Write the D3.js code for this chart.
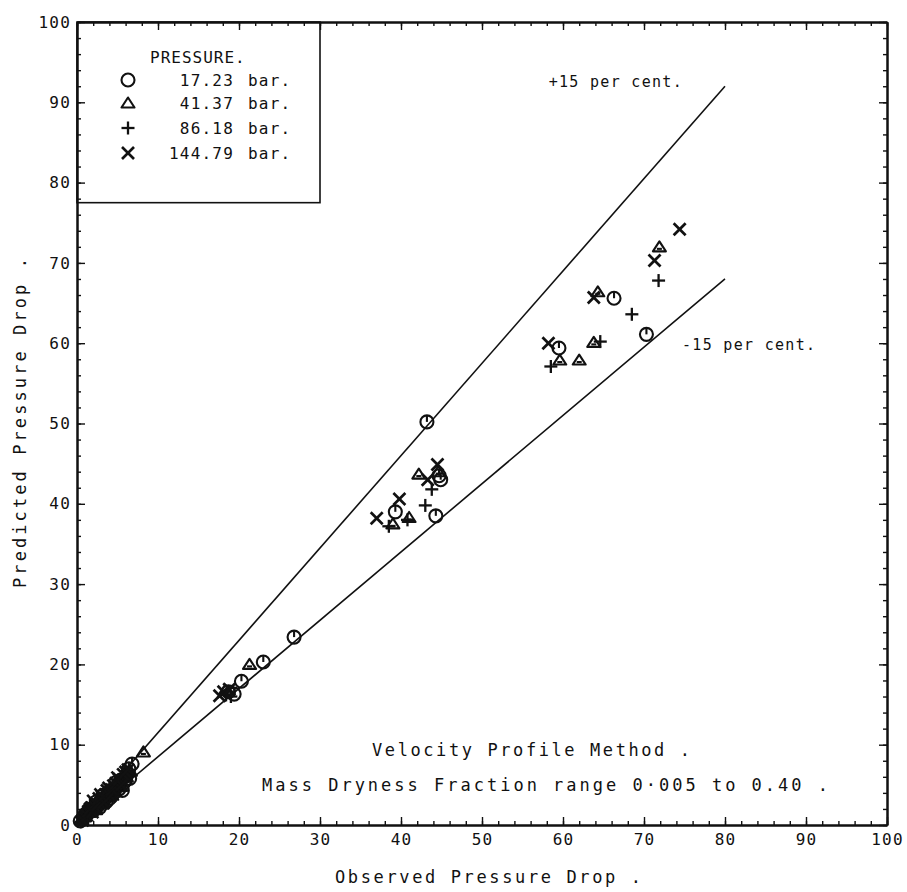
<!DOCTYPE html>
<meta charset="utf-8">
<style>
    body { margin: 0; background: #fff; overflow: hidden; }
    text { font-family: "DejaVu Sans Mono", monospace; fill: #111; }
    .axis path, .axis line { stroke: #111; }
</style>
<svg id="canvas" width="907" height="892"></svg>
<script src="https://d3js.org/d3.v7.min.js"></script>
<script>

    // observed / predicted pressure drop, one list per pressure
    var bar17 = [[0.4,0.5],[0.8,0.9],[1.0,1.3],[1.3,1.4],[1.5,1.9],[1.8,2.0],[2.0,1.8],[2.2,2.3],[2.4,2.9],
                 [2.6,2.5],[2.8,2.2],[3.0,3.1],[3.2,3.7],[3.4,3.2],[3.6,2.9],[3.8,3.6],[4.0,3.3],[4.2,4.3],
                 [4.4,3.8],[4.6,4.1],[4.8,5.3],[5.0,4.9],[5.2,4.5],[5.4,5.6],[5.6,4.3],[5.8,5.3],[6.0,5.6],
                 [6.2,6.4],[6.4,7.0],[6.5,5.8],[6.8,7.6],
                 [18.7,16.6],[19.4,16.3],[20.3,17.9],[23.0,20.3],[26.8,23.4],[39.3,39.0],[43.2,50.2],
                 [44.3,38.5],[44.7,43.5],[44.9,43.0],[59.5,59.4],[66.3,65.6],[70.3,61.1]];
    var bar41 = [[0.6,0.7],[0.9,1.0],[1.2,1.6],[1.2,2.2],[1.5,1.7],[1.9,2.3],[2.0,2.4],[2.3,1.9],[2.5,2.8],
                 [2.7,3.4],[2.9,2.7],[3.1,2.6],[3.3,3.6],[3.5,4.1],[3.7,3.9],[4.1,4.0],[4.3,3.7],[4.5,4.8],
                 [4.7,5.1],[5.1,5.3],[5.4,4.8],[5.6,5.9],[5.9,6.4],[6.1,6.0],[6.6,6.7],[8.2,9.1],
                 [18.3,16.8],[21.3,20.0],[39.0,37.5],[41.0,38.3],[42.2,43.7],[44.6,44.0],[59.6,57.9],
                 [62.0,57.9],[63.8,60.1],[64.3,66.4],[71.9,72.0]];
    var bar86 = [[0.5,0.4],[1.0,0.9],[1.3,1.1],[1.6,1.5],[1.6,2.6],[1.8,2.4],[2.1,2.0],[2.2,1.7],[2.4,2.6],
                 [2.6,3.2],[2.8,3.0],[3.0,2.4],[3.2,2.9],[3.4,3.9],[3.6,3.4],[3.8,3.1],[4.0,4.2],[4.4,4.5],
                 [4.6,5.0],[4.9,4.6],[5.1,4.2],[5.3,5.1],[5.6,5.5],[6.0,6.2],[6.3,6.6],
                 [18.4,16.2],[19.0,16.0],[38.5,37.2],[40.8,38.0],[43.0,39.8],[43.8,41.8],[58.5,57.1],
                 [64.6,60.2],[68.5,63.6],[71.8,67.8]];
    var bar144 = [[0.7,0.6],[1.2,1.2],[1.4,1.7],[1.7,2.1],[1.9,1.6],[2.0,3.0],[2.3,2.2],[2.5,2.5],[2.7,3.3],
                  [2.9,3.8],[3.1,3.5],[3.3,2.8],[3.5,3.8],[3.7,4.3],[3.9,4.6],[4.1,3.6],[4.3,4.4],[4.5,4.9],
                  [4.8,5.2],[5.0,5.9],[5.2,5.7],[5.5,5.0],[5.7,6.3],[6.0,6.6],[6.3,6.9],
                  [17.6,16.1],[18.1,16.6],[18.8,16.9],[37.0,38.2],[39.8,40.6],[43.3,43.0],[44.5,44.9],
                  [58.2,60.0],[63.8,65.7],[71.3,70.3],[74.4,74.2]];

    var series = [
        {label: "17.23", marker: "circle", points: bar17},
        {label: "41.37", marker: "triangle", points: bar41},
        {label: "86.18", marker: "plus", points: bar86},
        {label: "144.79", marker: "cross", points: bar144}
    ];

    var upperLine = [[0, 0], [80, 92]];   // +15 per cent
    var lowerLine = [[0, 0], [80, 68]];   // -15 per cent
    var majorTicks = d3.range(0, 101, 10);
    var minorTicks = d3.range(0, 101, 2);

    var svg = d3.select("svg");

    var x = d3.scaleLinear().domain([0, 100]).range([77, 887]);
    var y = d3.scaleLinear().domain([0, 100]).range([825, 22]);

    function addAxis(axis, tx, ty, values, size, labels) {
        var g = svg.append("g")
            .attr("class", "axis")
            .attr("transform", "translate(" + tx + "," + ty + ")")
            .call(axis.tickValues(values).tickSizeInner(-size).tickSizeOuter(0).tickPadding(6)
                      .tickFormat(labels ? d3.format("d") : ""));
        g.select(".domain").attr("stroke-width", 2);
        g.selectAll(".tick line").attr("stroke-width", 1.4);
        g.selectAll("text").style("font-size", "16px").attr("letter-spacing", 1.2).attr("fill", "#111");
        return g;
    }

    // minor ticks on all four sides
    addAxis(d3.axisBottom(x), 0, y(0), minorTicks, 4, false);
    addAxis(d3.axisTop(x), 0, y(100), minorTicks, 4, false);
    addAxis(d3.axisLeft(y), x(0), 0, minorTicks, 4, false);
    addAxis(d3.axisRight(y), x(100), 0, minorTicks, 4, false);
    // major ticks
    addAxis(d3.axisBottom(x), 0, y(0), majorTicks, 8, true).selectAll("text").attr("dy", "0.85em");
    addAxis(d3.axisTop(x), 0, y(100), majorTicks, 8, false);
    addAxis(d3.axisLeft(y), x(0), 0, majorTicks, 8, true);
    addAxis(d3.axisRight(y), x(100), 0, majorTicks, 8, false);

    // +/- 15 per cent lines
    var line = d3.line().x(function(d) { return x(d[0]); }).y(function(d) { return y(d[1]); });
    [upperLine, lowerLine].forEach(function(l) {
        svg.append("path").attr("d", line(l)).attr("fill", "none").attr("stroke", "#111").attr("stroke-width", 1.6);
    });

    function marker(g, type, cx, cy, inPlot) {
        var m = g.append("g").attr("fill", "none").attr("stroke", "#111").attr("stroke-width", 2.1);
        if (type === "circle") {
            m.append("circle").attr("cx", cx).attr("cy", cy).attr("r", 6.5);
            if (inPlot) m.append("line").attr("x1", cx).attr("y1", cy - 6.5).attr("x2", cx).attr("y2", cy);
        } else if (type === "triangle") {
            m.append("path").attr("d", "M" + (cx - 6.5) + "," + (cy + 4.5) + "L" + cx + "," + (cy - 5.5) +
                "L" + (cx + 6.5) + "," + (cy + 4.5) + "Z").attr("stroke-linejoin", "round");
            if (inPlot) m.append("line").attr("x1", cx - 2.5).attr("y1", cy + 2).attr("x2", cx + 2.5).attr("y2", cy + 2);
        } else if (type === "plus") {
            m.attr("stroke-width", 2.3);
            m.append("line").attr("x1", cx - 6.5).attr("y1", cy).attr("x2", cx + 6.5).attr("y2", cy);
            m.append("line").attr("x1", cx).attr("y1", cy - 6.5).attr("x2", cx).attr("y2", cy + 6.5);
        } else {
            m.attr("stroke-width", 2.7);
            m.append("line").attr("x1", cx - 6).attr("y1", cy - 6).attr("x2", cx + 6).attr("y2", cy + 6);
            m.append("line").attr("x1", cx - 6).attr("y1", cy + 6).attr("x2", cx + 6).attr("y2", cy - 6);
        }
    }

    var pts = svg.append("g").attr("class", "points");
    series.forEach(function(s) {
        s.points.forEach(function(p) { marker(pts, s.marker, x(p[0]), y(p[1]), true); });
    });

    // legend box
    svg.append("rect")
        .attr("x", x(0)).attr("y", y(100))
        .attr("width", x(30) - x(0)).attr("height", y(77.5) - y(100))
        .attr("fill", "none").attr("stroke", "#111").attr("stroke-width", 1.6);

    var legend = svg.append("g");
    legend.append("text").attr("x", 150).attr("y", 57).attr("dy", "0.35em")
        .style("font-size", "16px").attr("letter-spacing", 1).text("PRESSURE.");
    series.forEach(function(s, i) {
        var ly = [80, 103, 128, 153][i];
        marker(legend, s.marker, 128, ly, false);
        legend.append("text").attr("x", 234).attr("y", ly).attr("dy", "0.35em").attr("text-anchor", "end")
            .style("font-size", "16px").attr("letter-spacing", 1.2).text(s.label);
        legend.append("text").attr("x", 248).attr("y", ly).attr("dy", "0.35em")
            .style("font-size", "16px").attr("letter-spacing", 1.2).text("bar.");
    });

    // annotations
    svg.append("text").attr("x", 683).attr("y", 82).attr("dy", "0.35em").attr("text-anchor", "end")
        .style("font-size", "15px").attr("letter-spacing", 1.3).text("+15 per cent.");
    svg.append("text").attr("x", 682).attr("y", 345).attr("dy", "0.35em")
        .style("font-size", "15px").attr("letter-spacing", 1.3).text("-15 per cent.");

    svg.append("text").attr("x", 372).attr("y", 750).attr("dy", "0.35em")
        .attr("textLength", 318).attr("lengthAdjust", "spacing")
        .style("font-size", "17px").text("Velocity Profile Method .");
    svg.append("text").attr("x", 262).attr("y", 785).attr("dy", "0.35em")
        .attr("textLength", 566).attr("lengthAdjust", "spacing")
        .style("font-size", "17px").text("Mass Dryness Fraction range 0\u00b7005 to 0.40 .");

    // axis titles
    svg.append("text").attr("x", 335).attr("y", 877).attr("dy", "0.35em")
        .attr("textLength", 306).attr("lengthAdjust", "spacing")
        .style("font-size", "17px").text("Observed Pressure Drop .");
    svg.append("text").attr("transform", "translate(20,588) rotate(-90)").attr("dy", "0.35em")
        .attr("textLength", 330).attr("lengthAdjust", "spacing")
        .style("font-size", "17px").text("Predicted Pressure Drop .");

</script>
